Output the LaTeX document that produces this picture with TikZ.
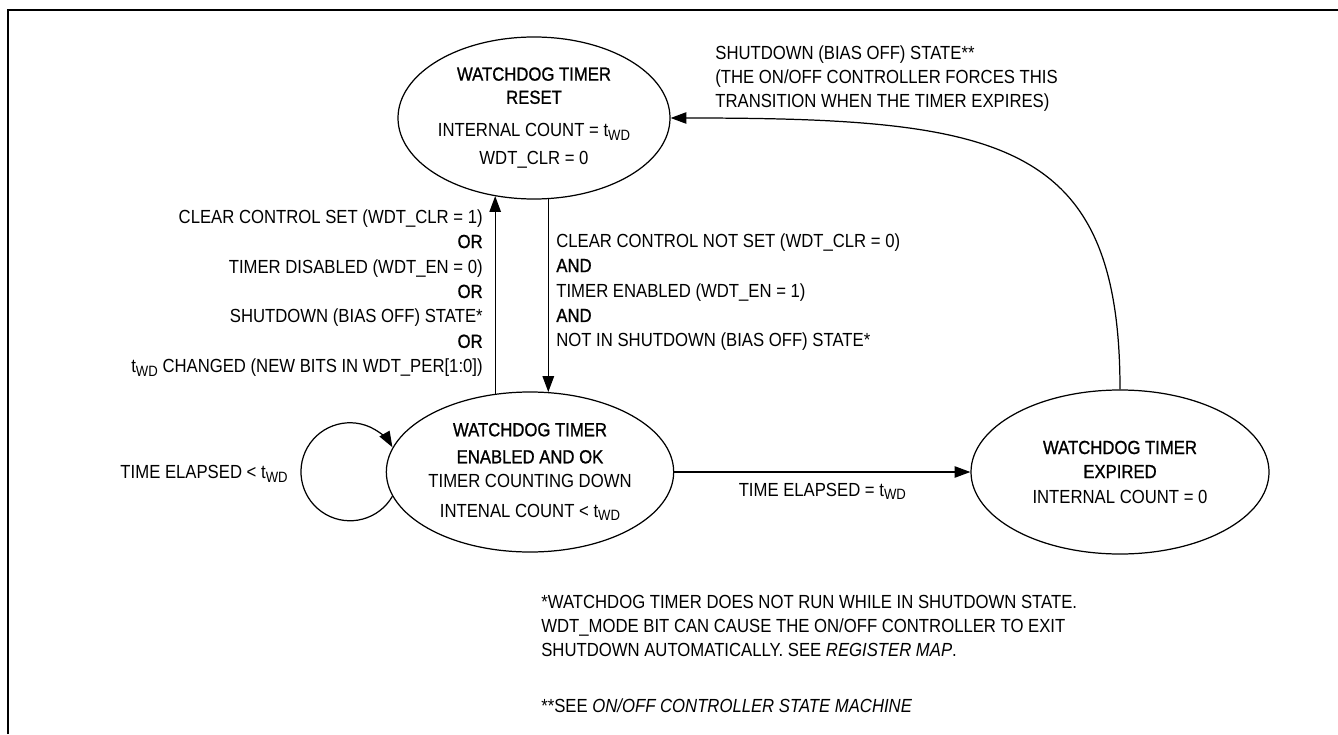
\documentclass[tikz,border=0pt]{standalone}
\usepackage{fontspec}
\setmainfont{Liberation Sans}[FakeStretch=0.88]
\newfontfamily\headfont{Liberation Sans}[FakeStretch=0.88,FakeBold=1.0]
\usetikzlibrary{arrows.meta,shapes.geometric,calc}
\newcommand{\twd}{t\raisebox{-0.35ex}{\fontsize{8.5}{8.5}\selectfont WD}}
\newcommand{\hd}[1]{{\headfont #1}}

\begin{document}
\begin{tikzpicture}[
  every node/.style={font=\fontsize{10.8}{14.2}\selectfont, inner sep=0pt},
  wdstate/.style={draw, ellipse, line width=0.7pt, align=center},
  flow/.style={-{Triangle[length=9pt,width=6.5pt]}, line width=0.7pt}]
  \useasboundingbox (0,0) rectangle (26.76,14.68);
  \draw[line width=1pt] (0.16,0) -- (0.16,14.48) -- (26.76,14.48);
  \node[wdstate, minimum width=5.44cm, minimum height=3.24cm] (reset) at (10.68,12.32)
    {\hd{WATCHDOG TIMER}\\[-1pt] \hd{RESET}\\[4.6pt] INTERNAL COUNT = \twd\\[1.7pt] WDT\_CLR = 0};
  \node[wdstate, minimum width=5.28cm, minimum height=3.2cm] (enabled) at (10.60,5.24)
    {\hd{WATCHDOG TIMER}\\[1.2pt] \hd{ENABLED AND OK}\\[-0.5pt] TIMER COUNTING DOWN\\[2.9pt] INTENAL COUNT < \twd};
  \node[wdstate, minimum width=5.96cm, minimum height=3.28cm] (expired) at (22.40,5.24)
    {\hd{WATCHDOG TIMER}\\[-0.5pt] \hd{EXPIRED}\\ INTERNAL COUNT = 0};
  \draw[flow] (enabled.114) -- (enabled.114 |- reset.243);
  \draw[flow] (reset.280) -- (reset.280 |- enabled.77);
  \draw[flow] (enabled.east) -- node[midway, below=6pt] (elapsedlbl) {TIME ELAPSED = \twd} (expired.west);
  \draw[flow] (expired.north) .. controls +(0,5.0) and +(6.6,0) .. (reset.east);
  \draw[flow] (enabled.190) arc[start angle=-30, end angle=-330, radius=0.98];
  \node[anchor=east] (looplbl) at (5.76,5.20) {TIME ELAPSED < \twd};
  \node[anchor=north east, align=right] (orconds) at (9.66,10.50)
    {CLEAR CONTROL SET (WDT\_CLR = 1)\\ \hd{OR}\\ TIMER DISABLED (WDT\_EN = 0)\\ \hd{OR}\\
     SHUTDOWN (BIAS OFF) STATE*\\ \hd{OR}\\ \twd{} CHANGED (NEW BITS IN WDT\_PER[1:0])};
  \node[anchor=north west, align=left] (andconds) at (11.12,10.02)
    {CLEAR CONTROL NOT SET (WDT\_CLR = 0)\\ \hd{AND}\\ TIMER ENABLED (WDT\_EN = 1)\\ \hd{AND}\\
     NOT IN SHUTDOWN (BIAS OFF) STATE*};
  \node[anchor=north west, align=left, font=\fontsize{10.8}{13.7}\selectfont] (forced) at (14.30,13.78)
    {SHUTDOWN (BIAS OFF) STATE**\\ (THE ON/OFF CONTROLLER FORCES THIS\\ TRANSITION WHEN THE TIMER EXPIRES)};
  \node[anchor=north west, align=left, font=\fontsize{10.8}{13.7}\selectfont] (notes) at (10.82,2.78)
    {*WATCHDOG TIMER DOES NOT RUN WHILE IN SHUTDOWN STATE.\\
     WDT\_MODE BIT CAN CAUSE THE ON/OFF CONTROLLER TO EXIT\\
     SHUTDOWN AUTOMATICALLY. SEE \textit{REGISTER MAP}.\\[18pt]
     **SEE \textit{ON/OFF CONTROLLER STATE MACHINE}};
\end{tikzpicture}
\end{document}
